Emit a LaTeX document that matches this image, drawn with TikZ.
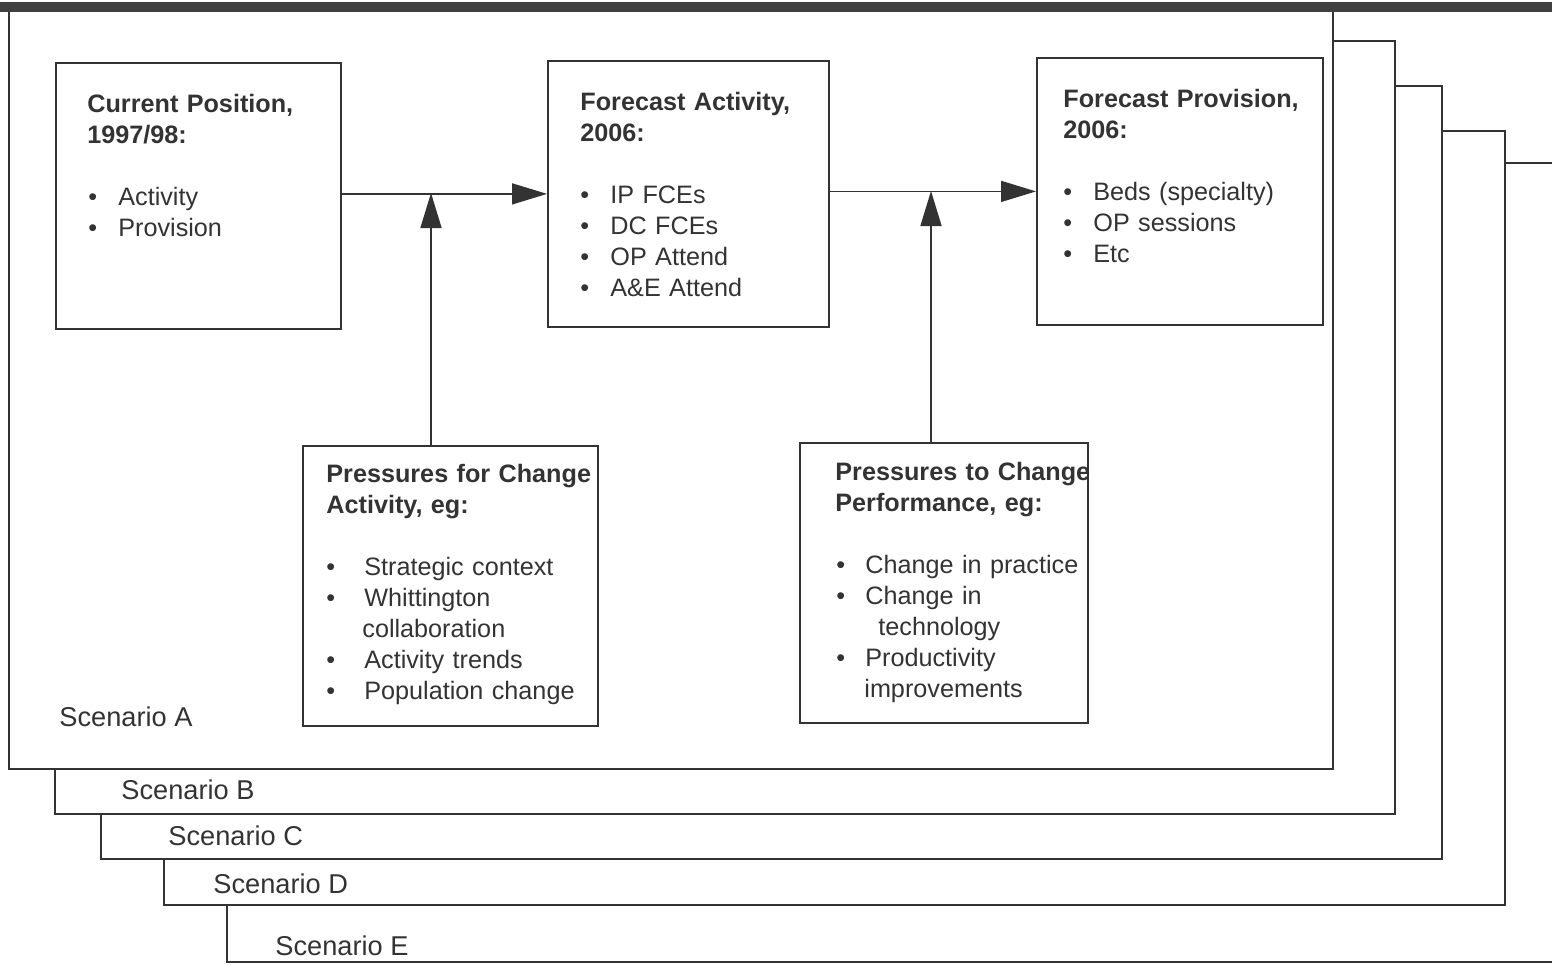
\documentclass[tikz,border=0pt]{standalone}
\usepackage{fontspec}
\setmainfont{Liberation Sans}
\usetikzlibrary{positioning,arrows.meta}
\colorlet{ink}{black!80}
\tikzset{box/.style={draw=ink,line width=0.9pt,anchor=north west,inner sep=0pt},
         txt/.style={anchor=north west,inner sep=0pt,align=left,text width=140pt,text=ink,font=\fontsize{12.6}{15.5}\selectfont},
         frame/.style={draw=ink,line width=0.9pt,fill=white},
         arr/.style={draw=ink,line width=0.8pt,-{Triangle[length=17.5pt,width=10.5pt]}},
         scen/.style={anchor=base west,inner sep=0pt,text=ink,font=\fontsize{13.6}{15.5}\selectfont}}
\newcommand{\bul}[1]{\makebox[#1][l]{\textbullet}}

\begin{document}
\begin{tikzpicture}[x=0.5pt,y=-0.5pt]
\useasboundingbox (0,0) rectangle (1552,964);
% scenario sheets, back to front
\draw[frame] (227,163) rectangle (1560,962);
\draw[frame] (164,131) rectangle (1505,905);
\draw[frame] (101,86) rectangle (1442,859);
\draw[frame] (55,41) rectangle (1395,814);
\draw[frame] (9,10) rectangle (1333,769);
\fill[black!75] (0,2) rectangle (1552,12);
\node[scen] (scA) at (59,726) {Scenario A};
\node[scen] (scB) at (121,799) {Scenario B};
\node[scen] (scC) at (168,845) {Scenario C};
\node[scen] (scD) at (213,893) {Scenario D};
\node[scen] (scE) at (275,955) {Scenario E};
% boxes
\node[box,minimum width=142.5pt,minimum height=133pt] at (55,62)(cur){};
\node[box,minimum width=140.5pt,minimum height=133pt] at (547,60)(fact){};
\node[box,minimum width=143pt,minimum height=133.5pt] at (1036,57)(fprov){};
\node[box,minimum width=147.5pt,minimum height=140pt] at (302,445)(pfc){};
\node[box,minimum width=144pt,minimum height=140pt] at (799,442)(ptc){};
\node[txt] at (87,94)(curT){\textbf{Current Position,}\\\textbf{1997/98:}\\[15.5pt]
  \hspace*{0.5pt}\bul{15pt}Activity\\\hspace*{0.5pt}\bul{15pt}Provision};
\node[txt] at (580,92)(factT){\textbf{Forecast Activity,}\\\textbf{2006:}\\[15.5pt]
  \bul{15pt}IP FCEs\\\bul{15pt}DC FCEs\\\bul{15pt}OP Attend\\\bul{15pt}A\&E Attend};
\node[txt] at (1063,89)(fprovT){\textbf{Forecast Provision,}\\\textbf{2006:}\\[15.5pt]
  \bul{15pt}Beds (specialty)\\\bul{15pt}OP sessions\\\bul{15pt}Etc};
\node[txt] at (326,464)(pfcT){\textbf{Pressures for Change}\\\textbf{Activity, eg:}\\[15.5pt]
  \bul{19pt}Strategic context\\\bul{19pt}Whittington\\\hspace*{18pt}collaboration\\
  \bul{19pt}Activity trends\\\bul{19pt}Population change};
\node[txt] at (835,462)(ptcT){\textbf{Pressures to Change}\\\textbf{Performance, eg:}\\[15.5pt]
  \hspace*{0.5pt}\bul{14.5pt}Change in practice\\\hspace*{0.5pt}\bul{14.5pt}Change in\\
  \hspace*{21.5pt}technology\\\hspace*{0.5pt}\bul{14.5pt}Productivity\\\hspace*{14.5pt}improvements};
% flow
\coordinate (j1) at (431,193);
\coordinate (j2) at (931,191);
\draw[arr] (cur.east |- fact.west) -- (fact.west);
\draw[arr] (pfc.north -| j1) -- (j1);
\draw[arr] (fact.east |- fprov.west) -- (fprov.west);
\draw[arr] (ptc.north -| j2) -- (j2);
\end{tikzpicture}
\end{document}
